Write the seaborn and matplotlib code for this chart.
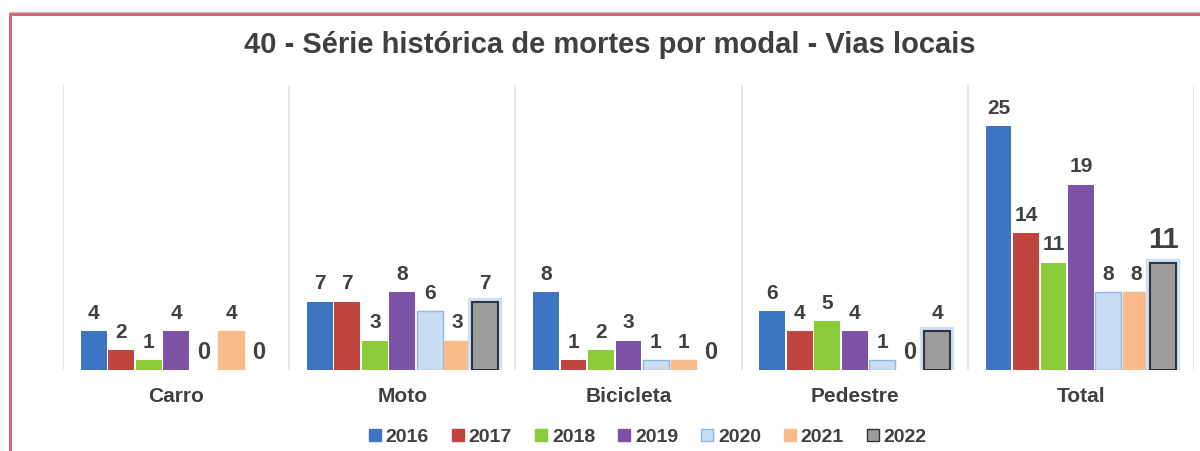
import matplotlib
matplotlib.use("Agg")
import matplotlib.pyplot as plt
import matplotlib.patheffects as pe
from matplotlib.lines import Line2D
from matplotlib.patches import Patch
import seaborn as sns
import pandas as pd

categories = ["Carro", "Moto", "Bicicleta", "Pedestre", "Total"]
years = ["2016", "2017", "2018", "2019", "2020", "2021", "2022"]
v2016 = [4, 7, 8, 6, 25]
v2017 = [2, 7, 1, 4, 14]
v2018 = [1, 3, 2, 5, 11]
v2019 = [4, 8, 3, 4, 19]
v2020 = [0, 6, 1, 1, 8]
v2021 = [4, 3, 1, 0, 8]
v2022 = [0, 7, 0, 4, 11]
series = [v2016, v2017, v2018, v2019, v2020, v2021, v2022]
title = "40 - Série histórica de mortes por modal - Vias locais"

colors = ["#3E75C0", "#C0453F", "#8CCB3A", "#7B52A6", "#C9DEF3", "#F9BB8A", "#9C9C9C"]
edges = [None, None, None, None, "#8FB8E0", "#F9BB8A", "#2E3440"]
txt = "#404040"

rows = []
for y, vals in zip(years, series):
    for c, v in zip(categories, vals):
        rows.append({"modal": c, "ano": y, "mortes": v})
df = pd.DataFrame(rows)

sns.set_theme(style="white")
plt.rcParams["font.family"] = ["Liberation Sans", "DejaVu Sans"]
plt.rcParams["font.weight"] = "bold"

fig = plt.figure(figsize=(12, 4.51), dpi=100)
ax = fig.add_axes([0.0525, 0.1796, 0.9425, 0.632])

sns.barplot(data=df, x="modal", y="mortes", hue="ano", order=categories,
            hue_order=years, palette=colors, width=0.85, gap=0.06,
            saturation=1, legend=False, ax=ax, edgecolor="none")

for i, cont in enumerate(ax.containers):
    for bar in cont:
        if bar.get_height() == 0:
            bar.set_visible(False)
            continue
        if edges[i] is not None:
            bar.set_edgecolor(edges[i])
            bar.set_linewidth(1.5 if i == 6 else 1.0)
        if i == 6:
            bar.set_path_effects([pe.Stroke(linewidth=6, foreground="#CFE0F2"), pe.Normal()])
    labels = ax.bar_label(cont, labels=[f"{v:g}" for v in cont.datavalues], padding=6,
                          fontsize=15, fontweight="bold", color=txt)
    for lab, v in zip(labels, cont.datavalues):
        if v == 0:
            lab.set_fontsize(17)
            lab.xyann = (lab.xyann[0], 4)
    if i == 6:
        labels[-1].set_fontsize(21)

ax.set_xlim(-0.5, 4.5)
ax.set_ylim(0, 29.2)
for x in [-0.5, 0.5, 1.5, 2.5, 3.5, 4.5]:
    ax.axvline(x, color="#E3E3E3", lw=1.2, zorder=0)
for s in ax.spines.values():
    s.set_visible(False)
ax.set_yticks([])
ax.set_xlabel("")
ax.set_ylabel("")
ax.tick_params(axis="x", length=0, pad=12, labelsize=15, labelcolor=txt)
for t in ax.get_xticklabels():
    t.set_fontweight("bold")

fig.text(0.508, 0.90, title, ha="center", va="center", fontsize=21,
         fontweight="bold", color=txt)

handles = [Patch(facecolor=c, edgecolor=(e if e else c)) for c, e in zip(colors, edges)]
fig.legend(handles, years, loc="center", bbox_to_anchor=(0.54, 0.031), ncol=7,
           frameon=False, handlelength=0.6, handleheight=0.6, handletextpad=0.25,
           columnspacing=1.2, prop={"size": 14, "weight": "bold"}, labelcolor=txt)

fig.add_artist(Line2D([10 / 1200, 1], [1 - 12 / 451] * 2, color="#C8C8C8", lw=1.0))
fig.add_artist(Line2D([10 / 1200, 1], [1 - 14 / 451] * 2, color="#D9657C", lw=2.2))
fig.add_artist(Line2D([10 / 1200] * 2, [0, 1 - 14 / 451], color="#D9657C", lw=2.2))

fig.savefig("out.png", dpi=100, facecolor="white")
